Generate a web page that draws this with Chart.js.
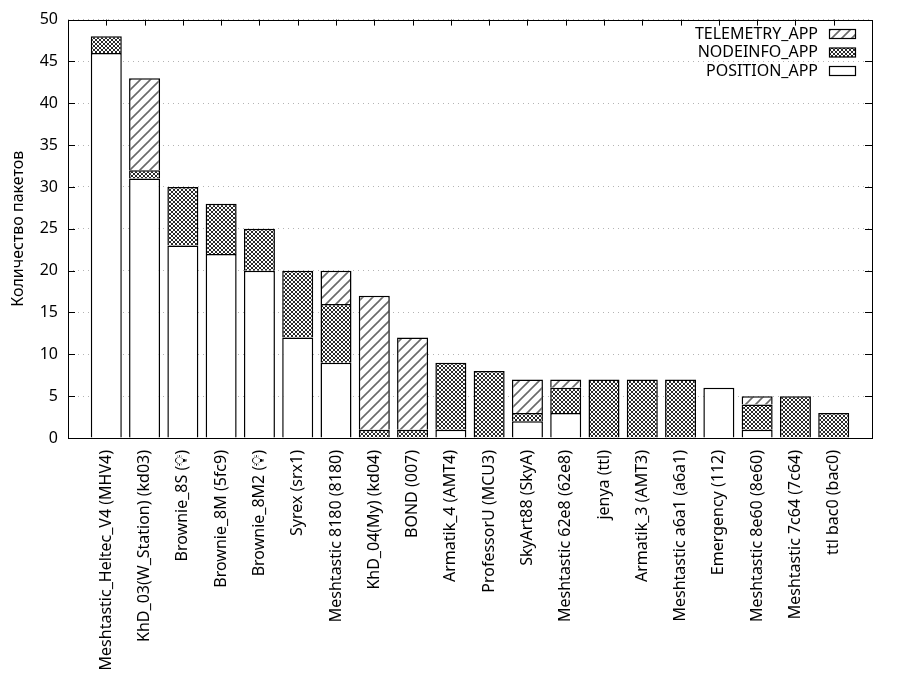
<!DOCTYPE html>
<html>
<head>
<meta charset="utf-8">
<script src="https://cdn.jsdelivr.net/npm/chart.js@4/dist/chart.umd.min.js"></script>
<style>
  html, body { margin: 0; padding: 0; background: #fff; }
  #wrap { width: 900px; height: 700px; }
</style>
</head>
<body>
<div id="wrap"><canvas id="chart" width="900" height="700"></canvas></div>
<script>
// node names, sorted by total packets
const nodes = [
  'Meshtastic_Heltec_V4 (MHV4)', 'KhD_03(W_Station) (kd03)', 'Brownie_8S (💡\uFE0E)',
  'Brownie_8M (5fc9)', 'Brownie_8M2 (💡\uFE0E)', 'Syrex (srx1)', 'Meshtastic 8180 (8180)',
  'KhD_04(My) (kd04)', 'BOND (007)', 'Armatik_4 (AMT4)', 'ProfessorU (MCU3)',
  'SkyArt88 (SkyA)', 'Meshtastic 62e8 (62e8)', 'jenya (ttl)', 'Armatik_3 (AMT3)',
  'Meshtastic a6a1 (a6a1)', 'Emergency (112)', 'Meshtastic 8e60 (8e60)',
  'Meshtastic 7c64 (7c64)', 'ttl bac0 (bac0)'
];
const position  = [46, 31, 23, 22, 20, 12, 9, 0, 0, 1, 0, 2, 3, 0, 0, 0, 6, 1, 0, 0];
const nodeinfo  = [2, 1, 7, 6, 5, 8, 7, 1, 1, 8, 8, 1, 3, 7, 7, 7, 0, 3, 5, 3];
const telemetry = [0, 11, 0, 0, 0, 0, 4, 16, 11, 0, 0, 4, 1, 0, 0, 0, 0, 1, 0, 0];
const yTicks = [0, 5, 10, 15, 20, 25, 30, 35, 40, 45, 50];

const FONT = '"Noto Sans", "Open Sans", sans-serif';
const FSIZE = 16;

// gnuplot-like fill patterns
function hatchPattern(ctx) {
  const c = document.createElement('canvas');
  c.width = 10; c.height = 10;
  const g = c.getContext('2d');
  g.fillStyle = '#fff';
  g.fillRect(0, 0, 10, 10);
  g.strokeStyle = '#6a6a6a';
  g.lineWidth = 1.6;
  g.beginPath();
  g.moveTo(-2, 12); g.lineTo(12, -2);
  g.moveTo(-2, 2); g.lineTo(2, -2);
  g.moveTo(8, 12); g.lineTo(12, 8);
  g.stroke();
  return ctx.createPattern(c, 'repeat');
}
function crossPattern(ctx) {
  const c = document.createElement('canvas');
  c.width = 4; c.height = 4;
  const g = c.getContext('2d');
  g.fillStyle = '#fff';
  g.fillRect(0, 0, 4, 4);
  g.fillStyle = '#2a2a2a';
  [[0, 0], [3, 0], [1, 1], [2, 1], [1, 2], [2, 2], [0, 3], [3, 3]]
    .forEach(p => g.fillRect(p[0], p[1], 1, 1));
  return ctx.createPattern(c, 'repeat');
}

const canvas = document.getElementById('chart');
const ctx = canvas.getContext('2d');
const hatch = hatchPattern(ctx);
const cross = crossPattern(ctx);

// blank slots at both ends so the bars sit like gnuplot's xrange [-1:20]
const labels = [''].concat(nodes, ['']);
const pad = arr => [null].concat(arr.map(v => v || null), [null]);

const framePlugin = {
  id: 'frame',
  afterDraw(chart) {
    const { ctx, chartArea: a, scales } = chart;
    ctx.save();
    ctx.strokeStyle = '#000';
    ctx.lineWidth = 1;
    ctx.beginPath();
    // y ticks, both sides
    yTicks.forEach(v => {
      const y = Math.round(scales.y.getPixelForValue(v)) + 0.5;
      ctx.moveTo(a.left, y); ctx.lineTo(a.left + 7, y);
      ctx.moveTo(a.right, y); ctx.lineTo(a.right - 7, y);
    });
    // x ticks on top
    nodes.forEach((n, i) => {
      const x = Math.round(scales.x.getPixelForValue(i + 1)) + 0.5;
      ctx.moveTo(x, a.top); ctx.lineTo(x, a.top + 6);
    });
    ctx.stroke();
    ctx.strokeRect(Math.round(a.left) + 0.5, Math.round(a.top) + 0.5,
      Math.round(a.right - a.left), Math.round(a.bottom - a.top));

    // y title
    ctx.fillStyle = '#000';
    ctx.font = FSIZE + 'px ' + FONT;
    ctx.textAlign = 'center';
    ctx.textBaseline = 'middle';
    ctx.translate(18, (a.top + a.bottom) / 2);
    ctx.rotate(-Math.PI / 2);
    ctx.fillText('Количество пакетов', 0, 0);
    ctx.restore();

    // legend, text right-aligned, sample box on the right
    const items = [['TELEMETRY_APP', hatch], ['NODEINFO_APP', cross], ['POSITION_APP', '#fff']];
    ctx.save();
    ctx.font = FSIZE + 'px ' + FONT;
    ctx.textAlign = 'right';
    ctx.textBaseline = 'middle';
    items.forEach((it, i) => {
      const y = 34 + i * 18.5;
      ctx.fillStyle = '#000';
      ctx.fillText(it[0], 818, y);
      ctx.fillStyle = it[1];
      ctx.fillRect(829, y - 4.5, 26, 9);
      ctx.strokeStyle = '#000';
      ctx.lineWidth = 1.2;
      ctx.strokeRect(829.5, y - 4.5, 26, 9);
    });
    ctx.restore();
  }
};

const barStyle = {
  borderColor: '#000',
  // no bottom edge: the segment below (or the axis) already draws that line
  borderWidth: { top: 1.5, left: 1.5, right: 1.5, bottom: 0 },
  borderSkipped: false,
  barPercentage: 0.81,
  categoryPercentage: 1.0
};

new Chart(canvas, {
  type: 'bar',
  data: {
    labels: labels,
    datasets: [
      Object.assign({ label: 'POSITION_APP', data: pad(position), backgroundColor: '#fff' }, barStyle),
      Object.assign({ label: 'NODEINFO_APP', data: pad(nodeinfo), backgroundColor: cross }, barStyle),
      Object.assign({ label: 'TELEMETRY_APP', data: pad(telemetry), backgroundColor: hatch }, barStyle)
    ]
  },
  options: {
    responsive: false,
    animation: false,
    devicePixelRatio: 1,
    layout: { padding: { left: 0, right: 28, top: 19, bottom: 0 } },
    plugins: { legend: { display: false }, tooltip: { enabled: false } },
    scales: {
      x: {
        stacked: true,
        offset: false,
        grid: { display: false },
        border: { display: false },
        ticks: {
          autoSkip: false,
          maxRotation: 90,
          minRotation: 90,
          padding: 4,
          color: '#000',
          font: { family: FONT, size: FSIZE }
        },
        afterFit: s => { s.height = 262; }
      },
      y: {
        stacked: true,
        min: 0,
        max: 50,
        afterBuildTicks: s => { s.ticks = yTicks.map(v => ({ value: v })); },
        grid: {
          color: '#b4b4b4',
          lineWidth: 1,
          drawTicks: false
        },
        // in v4 the dash on border applies to the grid lines
        border: { display: false, dash: [1, 4] },
        ticks: {
          padding: 10,
          color: '#000',
          font: { family: FONT, size: FSIZE }
        },
        afterFit: s => { s.width = 68; }
      }
    }
  },
  plugins: [framePlugin]
});
</script>
</body>
</html>
